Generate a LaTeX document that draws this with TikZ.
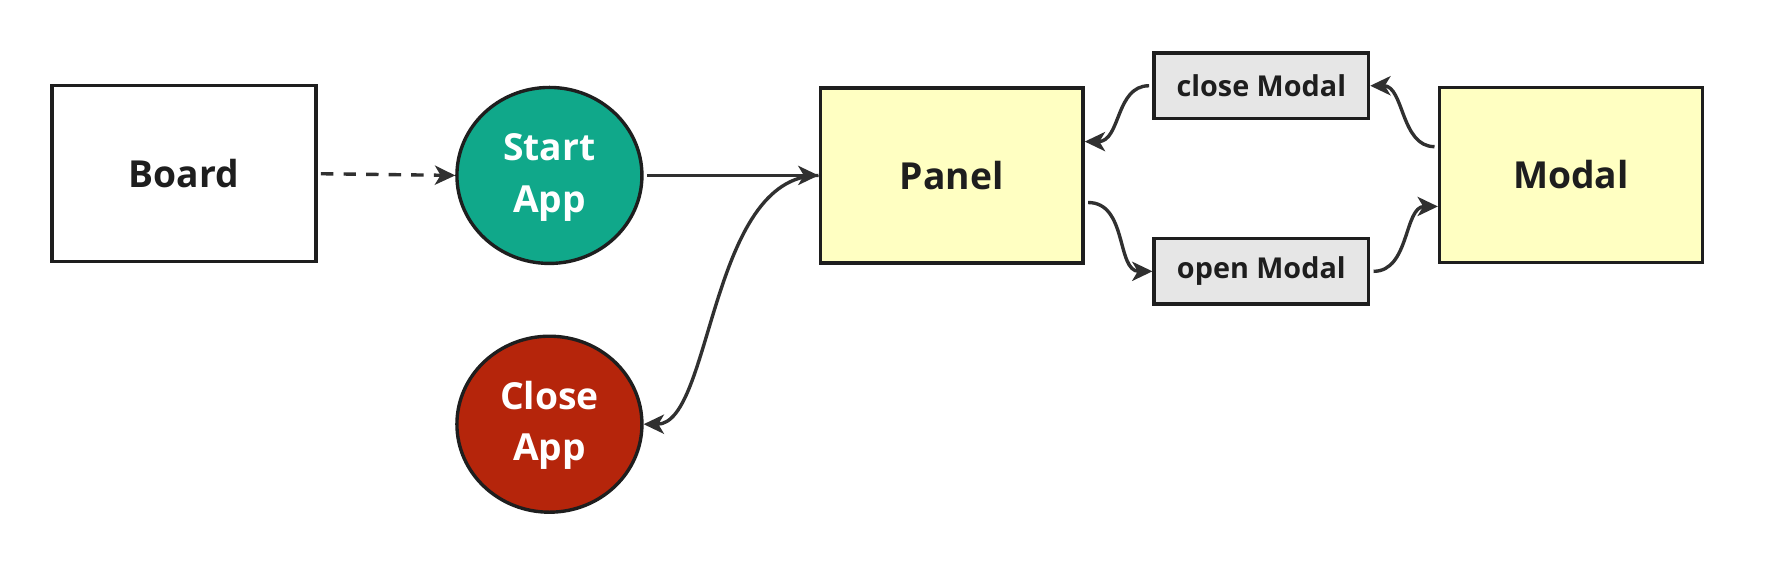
\documentclass[tikz,border=0pt]{standalone}
\usepackage{fontspec}
\setmainfont{Open Sans}
\usetikzlibrary{shapes.geometric,arrows.meta}
\definecolor{teal1}{HTML}{10A88A}
\definecolor{red1}{HTML}{B5250B}
\definecolor{yel}{HTML}{FFFFC2}
\definecolor{gry}{HTML}{E6E6E6}
\definecolor{brd}{HTML}{1E1E1E}
\definecolor{edg}{HTML}{303030}
\tikzset{
  base/.style={draw=brd, line width=3pt, inner sep=0pt, align=center, text=brd,
    font=\fontsize{33}{48}\selectfont\bfseries},
  whitebox/.style={base, rectangle, fill=white, minimum width=234pt, minimum height=156pt},
  yelbox/.style={base, rectangle, fill=yel, minimum width=233pt, minimum height=155pt},
  greybox/.style={base, rectangle, fill=gry, minimum width=190pt, minimum height=58pt,
    font=\fontsize{25.5}{30}\selectfont\bfseries},
  circ/.style={base, ellipse, minimum width=164pt, minimum height=156pt, text=white},
  conn/.style={draw=edg, line width=3pt, arrows={-Stealth[length=18pt,width=17pt,inset=5pt]}},
}
\begin{document}
\begin{tikzpicture}
\begin{scope}[x=1pt,y=-1pt]
\useasboundingbox (0,0) rectangle (1568,500);
\node[whitebox] (board) at (163,154) {Board};
\node[circ, fill=teal1] (start) at (487,155.5) {\raisebox{-3pt}{\begin{tabular}{@{}c@{}}Start\\[-2pt]App\end{tabular}}};
\node[circ, fill=red1] (close) at (487,376) {\raisebox{-3pt}{\begin{tabular}{@{}c@{}}Close\\[-2pt]App\end{tabular}}};
\node[yelbox] (panel) at (843.5,155.5) {Panel};
\node[yelbox] (modal) at (1392.5,155) {Modal};
\node[greybox] (cmodal) at (1118,76) {close Modal};
\node[greybox] (omodal) at (1118,240.5) {open Modal};
\end{scope}
\draw[conn, dash pattern=on 11pt off 9pt] ([xshift=3pt]board.east) -- (start.west);
\draw[conn] ([xshift=3pt]start.east) -- (panel.west);
\draw[conn] (panel.west) .. controls +(-97pt,0pt) and +(61pt,0pt) .. (close.east);
\draw[conn] ([yshift=-24pt,xshift=3pt]panel.east) .. controls +(35pt,0pt) and +(-32pt,0pt) .. (omodal.west);
\draw[conn] ([xshift=3pt]omodal.east) .. controls +(32pt,0pt) and +(-30pt,0pt) .. ([yshift=-28pt]modal.west);
\draw[conn] ([yshift=25pt,xshift=-3pt]modal.west) .. controls +(-30pt,0pt) and +(30pt,0pt) .. (cmodal.east);
\draw[conn] ([xshift=-3pt]cmodal.west) .. controls +(-30pt,0pt) and +(32pt,0pt) .. ([yshift=30pt]panel.east);
\end{tikzpicture}
\end{document}
